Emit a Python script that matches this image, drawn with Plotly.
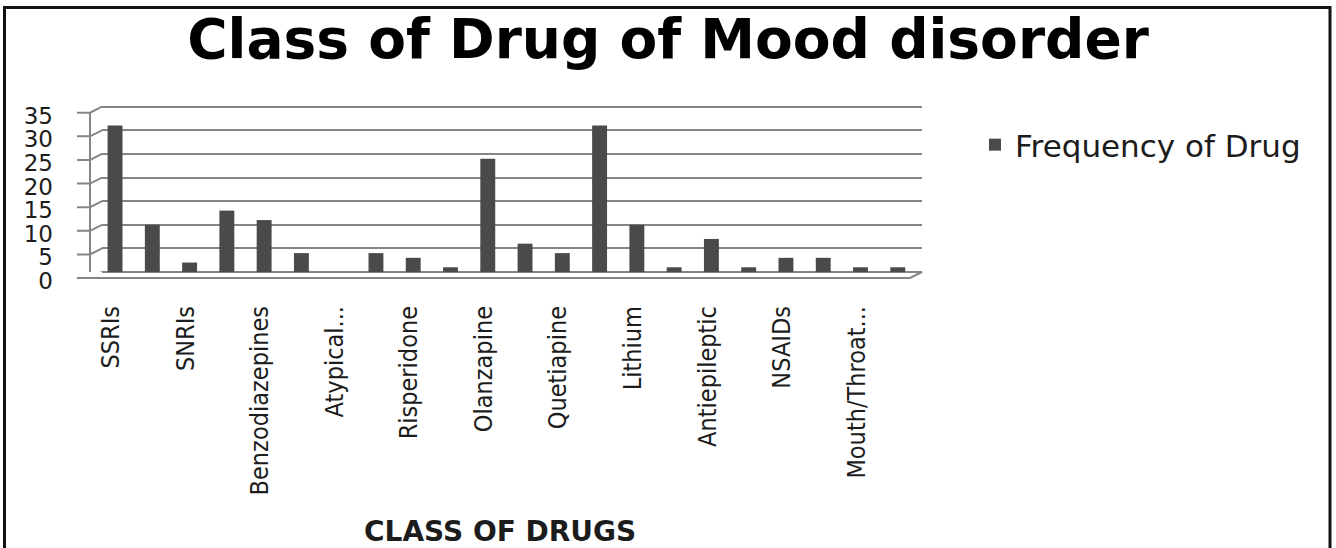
import plotly.graph_objects as go

# Frequency of each drug class; category labels are shown on every second class
frequency = [31, 10, 2, 13, 11, 4, 0, 4, 3, 1, 24, 6, 4, 31, 10, 1, 7, 1, 3, 3, 1, 1]
tick_labels = ["SSRIs", "SNRIs", "Benzodiazepines", "Atypical...", "Risperidone",
               "Olanzapine", "Quetiapine", "Lithium", "Antiepileptic", "NSAIDs",
               "Mouth/Throat..."]
y_ticks = [0, 5, 10, 15, 20, 25, 30, 35]
series_name = "Frequency of Drug"
chart_title = "Class of Drug of Mood disorder"
x_title = "CLASS OF DRUGS"

positions = list(range(len(frequency)))
label_positions = positions[::2]

# page / plot-area geometry (pixels)
PAGE_W, PAGE_H = 1336, 548
LEFT, RIGHT, TOP, BOTTOM = 102, 922, 102, 272
PW, PH = RIGHT - LEFT, BOTTOM - TOP
DEPTH_X, DEPTH_Y = 12, 6          # depth of the pseudo-3D floor / wall
Y_MAX = 36                         # a little headroom so the 35 gridline is drawn
UNIT = PH / Y_MAX                  # pixels per frequency unit
GRID = "#858585"
INK = "#1c1c1c"
NARROW = "DejaVu Sans Condensed, Roboto Condensed, Roboto, sans-serif"


def px_x(p):
    return (p - LEFT) / PW


def px_y(p):
    return (BOTTOM - p) / PH


fig = go.Figure()
fig.add_trace(go.Bar(
    x=positions,
    y=frequency,
    name=series_name,
    width=0.4,
    marker=dict(color="#4a4a4a", line=dict(width=0)),
    showlegend=True,
))

shapes = []
# floor of the chart
shapes.append(dict(
    type="path", xref="paper", yref="paper", layer="below",
    path=(f"M 0,0 L 1,0 L {px_x(RIGHT - DEPTH_X)},{-DEPTH_Y / PH} "
          f"L {px_x(LEFT - DEPTH_X - 13)},{-DEPTH_Y / PH}"),
    line=dict(color=GRID, width=2), fillcolor="rgba(255,255,255,0)",
))
# front edge of the left wall
shapes.append(dict(
    type="line", xref="paper", yref="y", ysizemode="pixel", yanchor=0,
    x0=px_x(LEFT - DEPTH_X), x1=px_x(LEFT - DEPTH_X),
    y0=-DEPTH_Y, y1=max(y_ticks) * UNIT - DEPTH_Y,
    line=dict(color=GRID, width=2),
))
# tick marks on the front edge and their links to the back wall gridlines
for v in y_ticks:
    shapes.append(dict(
        type="path", xref="paper", yref="y", ysizemode="pixel", yanchor=v,
        path=(f"M {px_x(LEFT - DEPTH_X - 13)},{-DEPTH_Y} "
              f"L {px_x(LEFT - DEPTH_X)},{-DEPTH_Y} L 0,0"),
        line=dict(color=GRID, width=2),
    ))
# outer frame
shapes.append(dict(
    type="rect", xref="paper", yref="paper",
    x0=px_x(4.5), x1=px_x(1330), y0=px_y(560), y1=px_y(7.5),
    line=dict(color="#111111", width=3),
))

fig.update_layout(
    width=PAGE_W, height=PAGE_H, autosize=False,
    margin=dict(l=LEFT, r=PAGE_W - RIGHT, t=TOP, b=PAGE_H - BOTTOM, pad=0),
    paper_bgcolor="white", plot_bgcolor="white",
    title=dict(
        text=f"<b>{chart_title}</b>", x=0.5, xanchor="center",
        xref="container", yref="container", y=1 - 39 / PAGE_H, yanchor="middle",
        font=dict(family="DejaVu Sans", size=55, color="#000000"),
    ),
    xaxis=dict(
        range=[-0.35, len(frequency) - 0.35],
        tickmode="array", tickvals=label_positions, ticktext=tick_labels,
        tickangle=-90, ticks="", showgrid=False, zeroline=False, showline=False,
        tickfont=dict(family=NARROW, size=25, color=INK),
        ticklabelstandoff=28, ticklabelshift=-4,
    ),
    yaxis=dict(
        range=[0, Y_MAX], tickmode="array", tickvals=y_ticks,
        ticks="", showline=False, zeroline=False,
        showgrid=True, gridcolor=GRID, gridwidth=2,
        tickfont=dict(family="DejaVu Sans", size=23, color=INK),
        ticklabelstandoff=48, ticklabelshift=9,
    ),
    legend=dict(
        x=px_x(975), y=px_y(118), xanchor="left", yanchor="top",
        font=dict(family="DejaVu Sans", size=31, color=INK),
        bgcolor="rgba(0,0,0,0)",
    ),
    shapes=shapes,
    annotations=[dict(
        text=f"<b>{x_title}</b>", xref="paper", yref="paper",
        x=px_x(500), y=px_y(531), xanchor="center", yanchor="middle",
        showarrow=False,
        font=dict(family="DejaVu Sans", size=28, color=INK),
    )],
    bargap=0.6,
)

fig.write_html("out.html", config={"displayModeBar": False})
